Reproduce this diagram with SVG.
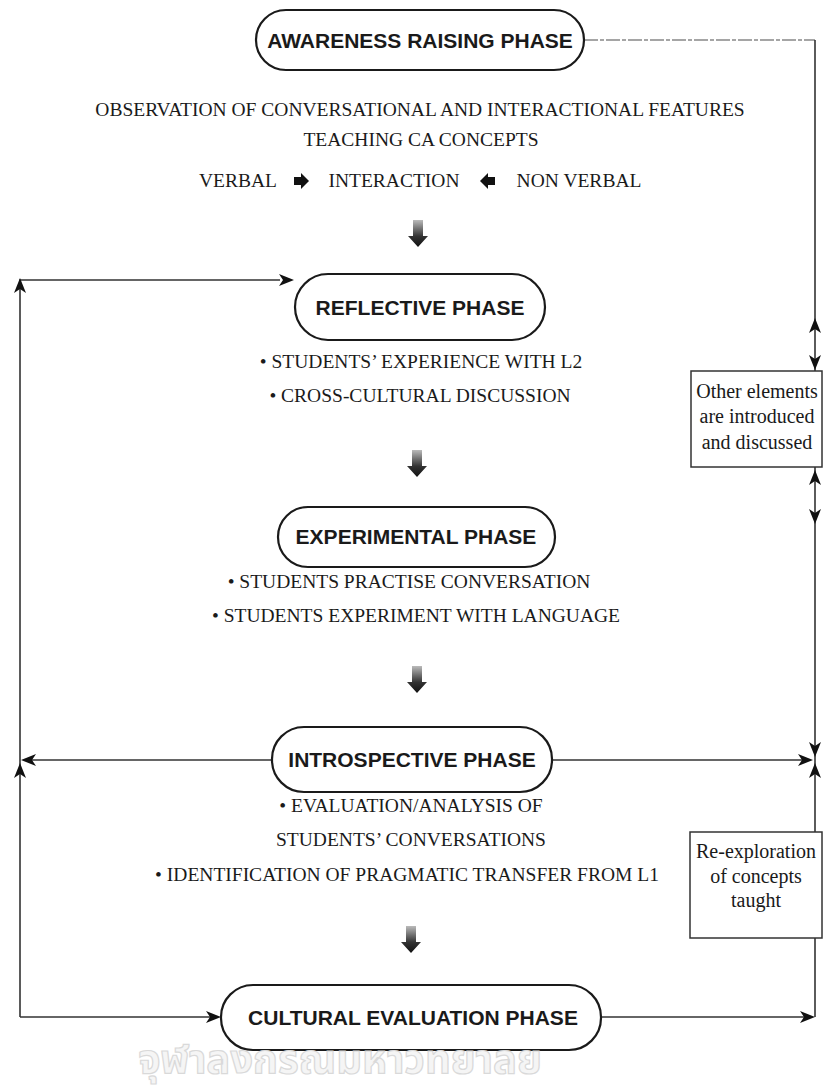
<svg xmlns="http://www.w3.org/2000/svg" width="824" height="1091" viewBox="0 0 824 1091">
<style>
.pill{fill:#fff;stroke:#1a1a1a;stroke-width:2.2}
.lbl{font-family:"Liberation Sans",Arial,sans-serif;font-weight:bold;font-size:21px;fill:#1a1a1a;text-anchor:middle}
.txt{font-family:"Liberation Serif","Times New Roman",serif;font-size:19.5px;fill:#1a1a1a;text-anchor:middle}
.note{font-family:"Liberation Serif","Times New Roman",serif;font-size:20px;fill:#1a1a1a;text-anchor:middle}
.box{fill:#fff;stroke:#333;stroke-width:1.5}
.ln{fill:none;stroke:#333;stroke-width:1.6}
.faint{fill:none;stroke:#888;stroke-width:1.6;stroke-dasharray:14 2 4 2}
.ah{fill:#111}
.wm{font-family:"Noto Sans Thai","Noto Sans","DejaVu Sans",sans-serif;font-weight:bold;font-size:40px;fill:#f5f5f5;stroke:#d9d9d9;stroke-width:1.2;text-anchor:middle}
</style>
<defs>
<linearGradient id="shaft" x1="0" y1="0" x2="0" y2="1">
<stop offset="0" stop-color="#bbb"/>
<stop offset="0.6" stop-color="#333"/>
<stop offset="1" stop-color="#111"/>
</linearGradient>
<path id="fat" d="M-5,-24 L5,-24 L5,-8 L10,-8 L0,3 L-10,-8 L-5,-8 Z" fill="url(#shaft)"/>
<path id="hd" d="M0,0 L-15,-6 L-11,0 L-15,6 Z" class="ah"/>
</defs>

<g id="connectors">
<!-- left loop -->
<path class="ln" d="M20,1017 L20,280 L280,280"/>
<path class="ln" d="M272,760 L24,760"/>
<path class="ln" d="M20,1017 L210,1017"/>
<use href="#hd" transform="translate(294,280)"/>
<use href="#hd" transform="translate(20,278) rotate(-90)"/>
<use href="#hd" transform="translate(21,760) rotate(180)"/>
<use href="#hd" transform="translate(20,763) rotate(-90)"/>
<use href="#hd" transform="translate(221,1017)"/>
<!-- right loop -->
<path class="faint" d="M584,40 L815,40"/>
<path class="ln" d="M815,40 L815,371"/>
<path class="ln" d="M815,467 L815,832"/>
<path class="ln" d="M815,938 L815,1017"/>
<path class="ln" d="M552,760 L805,760"/>
<path class="ln" d="M601,1017 L805,1017"/>
<use href="#hd" transform="translate(815,318) rotate(-90)"/>
<use href="#hd" transform="translate(815,370) rotate(90)"/>
<use href="#hd" transform="translate(815,470) rotate(-90)"/>
<use href="#hd" transform="translate(815,524) rotate(90)"/>
<use href="#hd" transform="translate(815,757) rotate(90)"/>
<use href="#hd" transform="translate(815,763) rotate(-90)"/>
<use href="#hd" transform="translate(813,760)"/>
<use href="#hd" transform="translate(815,1017)"/>
<!-- fat down arrows -->
<use href="#fat" transform="translate(418,244)"/>
<use href="#fat" transform="translate(417,474)"/>
<use href="#fat" transform="translate(417,690)"/>
<use href="#fat" transform="translate(411,950)"/>
<!-- small arrows in verbal line -->
<path class="ah" d="M294,177 L301,177 L301,173 L309,181 L301,189 L301,185 L294,185 Z"/>
<path class="ah" d="M495,177 L488,177 L488,173 L480,181 L488,189 L488,185 L495,185 Z"/>
</g>

<g id="awareness">
<rect class="pill" x="256" y="10" width="328" height="60" rx="30"/>
<text class="lbl" x="420" y="48">AWARENESS RAISING PHASE</text>
</g>
<g id="awareness-text">
<text class="txt" x="420" y="116">OBSERVATION OF CONVERSATIONAL AND INTERACTIONAL FEATURES</text>
<text class="txt" x="421" y="146">TEACHING CA CONCEPTS</text>
<text class="txt" x="238" y="187">VERBAL</text>
<text class="txt" x="394" y="187">INTERACTION</text>
<text class="txt" x="579" y="187">NON VERBAL</text>
</g>

<g id="reflective">
<rect class="pill" x="295" y="274" width="250" height="66" rx="33"/>
<text class="lbl" x="420" y="315">REFLECTIVE PHASE</text>
<text class="txt" x="421" y="368">• STUDENTS’ EXPERIENCE WITH L2</text>
<text class="txt" x="420" y="402">• CROSS-CULTURAL DISCUSSION</text>
</g>

<g id="experimental">
<rect class="pill" x="278" y="507" width="277" height="60" rx="30"/>
<text class="lbl" x="416" y="544">EXPERIMENTAL PHASE</text>
<text class="txt" x="409" y="588">• STUDENTS PRACTISE CONVERSATION</text>
<text class="txt" x="416" y="622">• STUDENTS EXPERIMENT WITH LANGUAGE</text>
</g>

<g id="introspective">
<rect class="pill" x="272" y="727" width="280" height="65" rx="32"/>
<text class="lbl" x="412" y="767">INTROSPECTIVE PHASE</text>
<text class="txt" x="411" y="812">• EVALUATION/ANALYSIS OF</text>
<text class="txt" x="411" y="846">STUDENTS’ CONVERSATIONS</text>
<text class="txt" x="407" y="881">• IDENTIFICATION OF PRAGMATIC TRANSFER FROM L1</text>
</g>

<g id="cultural">
<rect class="pill" x="221" y="985" width="380" height="65" rx="32"/>
<text class="lbl" x="413" y="1025">CULTURAL EVALUATION PHASE</text>
</g>

<g id="other-elements">
<rect class="box" x="691" y="371" width="131" height="96"/>
<text class="note" x="757" y="398">Other elements</text>
<text class="note" x="757" y="423">are introduced</text>
<text class="note" x="757" y="449">and discussed</text>
</g>

<g id="re-exploration">
<rect class="box" x="690" y="832" width="132" height="106"/>
<text class="note" x="756" y="858">Re-exploration</text>
<text class="note" x="756" y="883">of concepts</text>
<text class="note" x="756" y="907">taught</text>
</g>

<g id="watermark">
<text class="wm" x="340" y="1073">จุฬาลงกรณมหาวทยาลย</text>
</g>
</svg>
